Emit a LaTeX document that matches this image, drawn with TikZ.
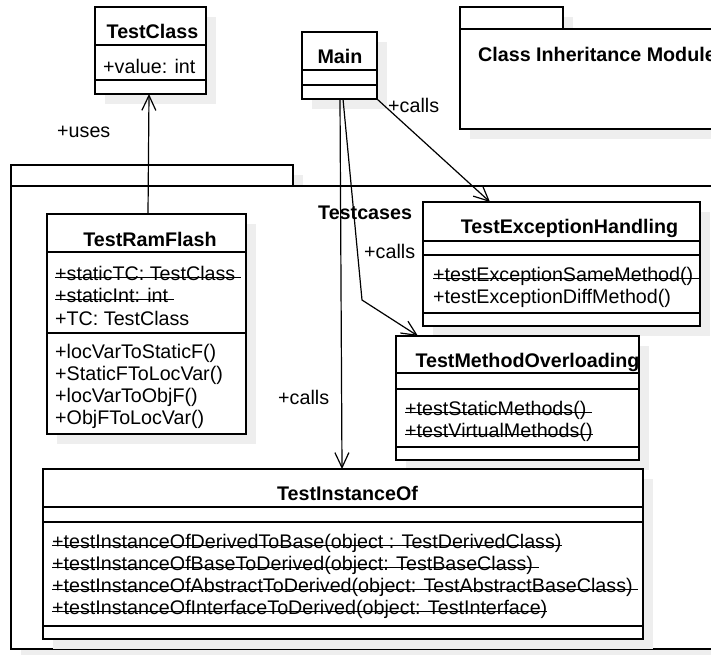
\documentclass[tikz,border=0pt]{standalone}
\usepackage{fontspec}
\setmainfont{Liberation Sans}
\usetikzlibrary{arrows.meta,calc}
\definecolor{shadowgray}{RGB}{238,238,238}
% static members: a thin rule through the lower part of the text
\newcommand\stmem[1]{\setbox0=\hbox{#1}\rlap{\rule[2pt]{\wd0}{0.9pt}}\box0}
\begin{document}
\begin{tikzpicture}[x=1pt,y=-1pt,
  umlfont/.style={font=\fontsize{19.7}{23}\selectfont},
  box/.style={draw=black,line width=1.5pt,fill=white,inner sep=0pt,outer sep=0pt,
    anchor=north west,
    preaction={fill=shadowgray,transform canvas={shift={(10pt,-10pt)}}}},
  divider/.style={draw=black,line width=1.5pt},
  title/.style={font=\fontsize{19.7}{23}\selectfont\bfseries,anchor=base,inner sep=0pt},
  member/.style={umlfont,anchor=base west,inner sep=0pt},
  conn/.style={line width=1.2pt,-{Straight Barb[length=15pt,width=14pt]}}]
\useasboundingbox (0,0) rectangle (711,654);
\fill[white] (0,0) rectangle (711,654);
\clip (0,0) rectangle (711,654);

% package: Testcases
\node[box,minimum width=282pt,minimum height=21pt] (tcstab) at (11,165) {};
\node[box,minimum width=729pt,minimum height=463pt] (tcs) at (11,186) {};
\node[title,anchor=base west] (tcslabel) at (318,219) {Testcases};

% package: Class Inheritance Module
\node[box,minimum width=103pt,minimum height=22pt] (cimtab) at (460,7) {};
\node[box,minimum width=280pt,minimum height=100pt] (cim) at (460,29) {};
\node[title,anchor=base west] (cimlabel) at (478,61) {Class Inheritance Module};

% class TestClass
\node[box,minimum width=111pt,minimum height=87pt] (tc) at (95,7) {};
\draw[divider] (tc.west |- 0,45) -- (tc.east |- 0,45);
\draw[divider] (tc.west |- 0,80) -- (tc.east |- 0,80);
\node[title] (tctitle) at (152.5,38) {TestClass};
\node[member] (tca1) at (103,73) {+value: int};

% class Main
\node[box,minimum width=75pt,minimum height=67pt] (main) at (302,32) {};
\draw[divider] (main.west |- 0,70) -- (main.east |- 0,70);
\draw[divider] (main.west |- 0,85) -- (main.east |- 0,85);
\node[title] (maintitle) at (340,63) {Main};

% class TestRamFlash
\node[box,minimum width=199pt,minimum height=220pt] (trf) at (47,214) {};
\draw[divider] (trf.west |- 0,252) -- (trf.east |- 0,252);
\draw[divider] (trf.west |- 0,333) -- (trf.east |- 0,333);
\node[title] (trftitle) at (150,246) {TestRamFlash};
\node[member] (trfa1) at (55,280) {\stmem{+staticTC: TestClass\ }};
\node[member] (trfa2) at (55,302) {\stmem{+staticInt: int\ }};
\node[member] (trfa3) at (55,325) {+TC: TestClass};
\node[member] (trfm1) at (55,358) {+locVarToStaticF()};
\node[member] (trfm2) at (55,380) {+StaticFToLocVar()};
\node[member] (trfm3) at (55,402) {+locVarToObjF()};
\node[member] (trfm4) at (55,424) {+ObjFToLocVar()};

% class TestExceptionHandling
\node[box,minimum width=277pt,minimum height=124pt] (teh) at (423,202) {};
\draw[divider] (teh.west |- 0,241) -- (teh.east |- 0,241);
\draw[divider] (teh.west |- 0,255) -- (teh.east |- 0,255);
\draw[divider] (teh.west |- 0,313) -- (teh.east |- 0,313);
\node[title] (tehtitle) at (569.5,233) {TestExceptionHandling};
\node[member] (tehm1) at (433,281) {\stmem{+testExceptionSameMethod()\ }};
\node[member] (tehm2) at (433,303) {+testExceptionDiffMethod()};

% class TestMethodOverloading
\node[box,minimum width=243pt,minimum height=124pt] (tmo) at (396,336) {};
\draw[divider] (tmo.west |- 0,373) -- (tmo.east |- 0,373);
\draw[divider] (tmo.west |- 0,389) -- (tmo.east |- 0,389);
\draw[divider] (tmo.west |- 0,447) -- (tmo.east |- 0,447);
\node[title] (tmotitle) at (527.5,367) {TestMethodOverloading};
\node[member] (tmom1) at (405,415) {\stmem{+testStaticMethods()\ }};
\node[member] (tmom2) at (405,437) {\stmem{+testVirtualMethods()}};

% class TestInstanceOf
\node[box,minimum width=600pt,minimum height=170pt] (tio) at (43,469) {};
\draw[divider] (tio.west |- 0,507) -- (tio.east |- 0,507);
\draw[divider] (tio.west |- 0,522) -- (tio.east |- 0,522);
\draw[divider] (tio.west |- 0,626) -- (tio.east |- 0,626);
\node[title] (tiotitle) at (347.5,500) {TestInstanceOf};
\node[member] (tiom1) at (52,548) {\stmem{+testInstanceOfDerivedToBase(object : TestDerivedClass)}};
\node[member] (tiom2) at (52,570) {\stmem{+testInstanceOfBaseToDerived(object: TestBaseClass)\ }};
\node[member] (tiom3) at (52,592) {\stmem{+testInstanceOfAbstractToDerived(object: TestAbstractBaseClass)\ }};
\node[member] (tiom4) at (52,614) {\stmem{+testInstanceOfInterfaceToDerived(object: TestInterface)}};

% associations
\draw[conn] ($(trf.north west)+(101,0)$) -- ($(tc.south west)+(54,0)$);
\node[member] (uses) at (57,137) {+uses};

\draw[conn] (main.south east) -- ($(teh.north west)+(67,0)$);
\node[member] (calls1) at (388,112) {+calls};

\coordinate (bend) at (362,300);
\draw[conn] ($(main.south west)+(41,0)$) -- (bend) -- ($(tmo.north west)+(22,0)$);
\node[member] (calls2) at (364,258) {+calls};

\draw[conn] ($(main.south west)+(38,0)$) -- ($(tio.north west)+(299,0)$);
\node[member] (calls3) at (278,404) {+calls};
\end{tikzpicture}
\end{document}
